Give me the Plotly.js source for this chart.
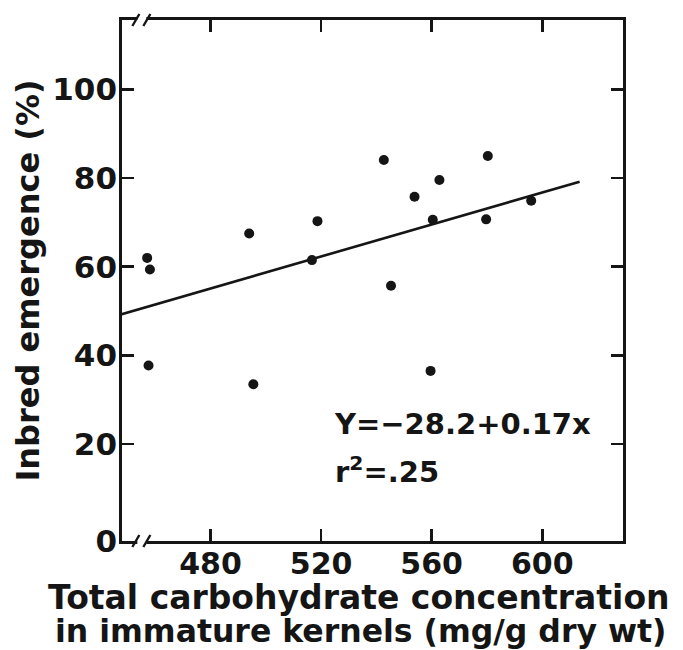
<!DOCTYPE html>
<html>
<head>
<meta charset="utf-8">
<script src="https://cdn.plot.ly/plotly-3.0.1.min.js"></script>
<style>html,body{margin:0;padding:0;background:#fff;}#chart{width:683px;height:650px;}</style>
</head>
<body>
<div id="chart"></div>
<script>
// Data
const carbohydrate = [457.1, 458.1, 457.6, 494.0, 495.5, 516.7, 518.7, 542.7, 545.3, 553.8, 560.4, 559.6, 562.8, 580.3, 579.7, 596.0];
const emergence    = [62.0, 59.4, 37.7, 67.5, 33.5, 61.5, 70.3, 84.1, 55.7, 75.8, 70.6, 36.5, 79.6, 85.0, 70.7, 74.9];
// Fitted line as drawn (end points)
const fitX = [447.9, 613.5];
const fitY = [49.3, 79.2];
// Axes
const xRange = [448, 629.2];
const yRange = [-1.9, 115.7];
const xTickVals = [480, 520, 560, 600];
const xTickText = ["480", "520", "560", "600"];
const yTickVals = [yRange[0], 20, 40, 60, 80, 100];
const yTickText = ["0", "20", "40", "60", "80", "100"];
const breakX = 455;
const equationText = "Y=−28.2+0.17x";
const r2Text = "r<sup>2</sup>=.25";
const xTitleLines = ["Total carbohydrate concentration", "in immature kernels (mg/g dry wt)"];
const yTitle = "Inbred emergence (%)";

const ink = '#151515';
const fam = 'DejaVu Sans';

const traces = [
  {x: fitX, y: fitY, type: 'scatter', mode: 'lines', line: {color: ink, width: 2.6}, hoverinfo: 'skip'},
  {x: carbohydrate, y: emergence, type: 'scatter', mode: 'markers', marker: {color: ink, size: 10}}
];

function brk(yAnchor) {
  return [
    {type: 'rect', xref: 'x', yref: 'paper', xsizemode: 'pixel', ysizemode: 'pixel',
     xanchor: breakX, yanchor: yAnchor, x0: -4, x1: 5, y0: -3, y1: 3,
     fillcolor: '#fff', line: {width: 0}, layer: 'above'},
    {type: 'line', xref: 'x', yref: 'paper', xsizemode: 'pixel', ysizemode: 'pixel',
     xanchor: breakX, yanchor: yAnchor, x0: -9, x1: -2, y0: -6, y1: 6,
     line: {color: ink, width: 2.4}, layer: 'above'},
    {type: 'line', xref: 'x', yref: 'paper', xsizemode: 'pixel', ysizemode: 'pixel',
     xanchor: breakX, yanchor: yAnchor, x0: 2, x1: 9, y0: -6, y1: 6,
     line: {color: ink, width: 2.4}, layer: 'above'}
  ];
}

const layout = {
  width: 683, height: 650,
  margin: {l: 122, r: 60, t: 20, b: 109},
  paper_bgcolor: '#fff', plot_bgcolor: '#fff',
  showlegend: false,
  font: {family: fam, color: ink, weight: 'bold'},
  xaxis: {
    range: xRange, tickvals: xTickVals, ticktext: xTickText,
    showgrid: false, zeroline: false, showline: true, linecolor: ink, linewidth: 2.8,
    mirror: 'allticks', ticks: 'inside', ticklen: 12, tickwidth: 2.6, tickcolor: ink,
    tickfont: {family: fam, size: 30, color: ink, weight: 'bold'}, ticklabelstandoff: -6,
    fixedrange: true
  },
  yaxis: {
    range: yRange, tickvals: yTickVals, ticktext: yTickText,
    showgrid: false, zeroline: false, showline: true, linecolor: ink, linewidth: 2.8,
    mirror: 'allticks', ticks: 'inside', ticklen: 12, tickwidth: 2.6, tickcolor: ink,
    tickfont: {family: fam, size: 31, color: ink, weight: 'bold'}, ticklabelstandoff: -4,
    title: {text: yTitle, font: {family: fam, size: 32, color: ink, weight: 'bold'}, standoff: 3},
    fixedrange: true
  },
  shapes: brk(0).concat(brk(1)),
  annotations: [
    {text: equationText, xref: 'x', yref: 'y', x: 524.1, y: 24.6, xanchor: 'left', yanchor: 'middle',
     showarrow: false, font: {family: fam, size: 29, color: ink, weight: 'bold'}},
    {text: r2Text, xref: 'x', yref: 'y', x: 524.4, y: 14.1, xanchor: 'left', yanchor: 'middle',
     showarrow: false, font: {family: fam, size: 29, color: ink, weight: 'bold'}},
    {text: xTitleLines[0], xref: 'paper', yref: 'paper', x: 0.473, y: -0.109, xanchor: 'center', yanchor: 'middle',
     showarrow: false, font: {family: fam, size: 33, color: ink, weight: 'bold'}},
    {text: xTitleLines[1], xref: 'paper', yref: 'paper', x: 0.476, y: -0.1735, xanchor: 'center', yanchor: 'middle',
     showarrow: false, font: {family: fam, size: 31.5, color: ink, weight: 'bold'}}
  ]
};

Plotly.newPlot('chart', traces, layout, {staticPlot: true, displayModeBar: false});
</script>
</body>
</html>
